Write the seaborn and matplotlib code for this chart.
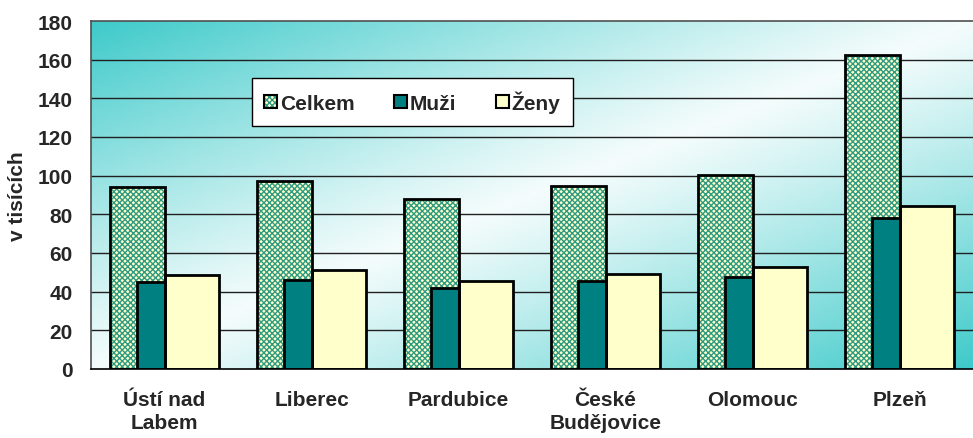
import matplotlib
matplotlib.use("Agg")
import matplotlib.pyplot as plt
from matplotlib.patches import Patch, Rectangle
from matplotlib.colors import LinearSegmentedColormap
import seaborn as sns
import pandas as pd
import numpy as np

# -----------------------------
# data
# -----------------------------
cities = ["Ústí nad\nLabem", "Liberec", "Pardubice", "České\nBudějovice", "Olomouc", "Plzeň"]
celkem = [94.0, 97.5, 88.0, 94.5, 100.5, 162.5]
muzi = [45.0, 46.0, 42.0, 45.5, 47.5, 78.0]
zeny = [48.5, 51.0, 45.5, 49.0, 53.0, 84.5]
yticks = [0, 20, 40, 60, 80, 100, 120, 140, 160, 180]

df = pd.DataFrame({"mesto": cities, "Celkem": celkem, "Muži": muzi, "Ženy": zeny})

TEAL = "#008080"
CREAM = "#FFFFCC"
HATCH_COL = "#2F9A82"
FS = 15

sns.set_style("white")
plt.rcParams["font.family"] = ["Liberation Sans", "DejaVu Sans"]
plt.rcParams["font.weight"] = "bold"
plt.rcParams["hatch.linewidth"] = 1.0

fig = plt.figure(figsize=(9.73, 4.39), dpi=100)
ax = fig.add_axes([91 / 973, 69 / 439, 882 / 973, 348 / 439])

# diagonal two-colour background (teal corners, white middle)
gx, gy = np.meshgrid(np.linspace(0, 1, 400), np.linspace(0, 1, 200))
grad = np.abs(gx + (1 - gy) - 1) ** 1.1  # 0 on anti-diagonal, 1 at TL/BR corners
bg_cmap = LinearSegmentedColormap.from_list("bg", ["#F4FCFC", "#3FCACA"])
ax.imshow(grad, cmap=bg_cmap, extent=[-0.5, 5.5, 0, 180], aspect="auto",
          origin="lower", zorder=0, interpolation="bilinear")

# gridlines
for v in yticks[1:-1]:
    ax.axhline(v, color="#202020", lw=1.0, zorder=1)

W_BIG = 0.374
W_SMALL = 0.186


def shifted_bars(col, width, offset, **kw):
    """Draw one series with seaborn, then move its bars sideways."""
    n_before = len(ax.patches)
    sns.barplot(data=df, x="mesto", y=col, width=width, saturation=1,
                ax=ax, zorder=2, **kw)
    bars = ax.patches[n_before:]
    for b in bars:
        b.set_x(b.get_x() + offset)
    return bars


# Celkem: hatched fill, then black outline
cel_bars = shifted_bars("Celkem", W_BIG, -W_BIG / 2, color=CREAM,
                        edgecolor=HATCH_COL, linewidth=0, hatch="xxxxxx")
for b in cel_bars:
    ax.add_patch(Rectangle((b.get_x(), 0), b.get_width(), b.get_height(),
                           fill=False, edgecolor="black", lw=2.0, zorder=2.5))

shifted_bars("Muži", W_SMALL, -W_SMALL / 2, color=TEAL,
             edgecolor="black", linewidth=2.0)
shifted_bars("Ženy", W_BIG, W_BIG / 2, color=CREAM,
             edgecolor="black", linewidth=2.0)

ax.set_xlim(-0.5, 5.5)
ax.set_ylim(0, 180)
ax.set_yticks(yticks)
ax.set_xlabel("")
ax.set_ylabel("v tisících", fontsize=FS, fontweight="bold", labelpad=8)
ax.tick_params(axis="y", length=0, pad=13, labelsize=FS)
ax.tick_params(axis="x", length=0, pad=15, labelsize=FS)
for lab in ax.get_xticklabels():
    lab.set_fontweight("bold")
    lab.set_linespacing(1.3)
for lab in ax.get_yticklabels():
    lab.set_fontweight("bold")

for s in ["top", "left"]:
    ax.spines[s].set_color("#505050")
    ax.spines[s].set_linewidth(1.2)
ax.spines["bottom"].set_color("black")
ax.spines["bottom"].set_linewidth(1.2)
ax.spines["right"].set_visible(False)

# legend
handles = [
    (Patch(facecolor=CREAM, edgecolor=HATCH_COL, hatch="xxxxxx", lw=0),
     Patch(fill=False, edgecolor="black", lw=1.5)),
    Patch(facecolor=TEAL, edgecolor="black", lw=1.5),
    Patch(facecolor=CREAM, edgecolor="black", lw=1.5),
]
leg = ax.legend(handles, ["Celkem", "Muži", "Ženy"], ncol=3,
                loc="upper left", bbox_to_anchor=(0.1825, 0.836),
                frameon=True, fancybox=False, framealpha=1,
                edgecolor="black", prop={"weight": "bold", "size": FS},
                handlelength=0.6, handleheight=0.6, handletextpad=0.15,
                columnspacing=1.9, borderpad=0.6, borderaxespad=0)
leg.get_frame().set_linewidth(1.0)
leg.set_zorder(5)

fig.savefig("out.png", dpi=100)
